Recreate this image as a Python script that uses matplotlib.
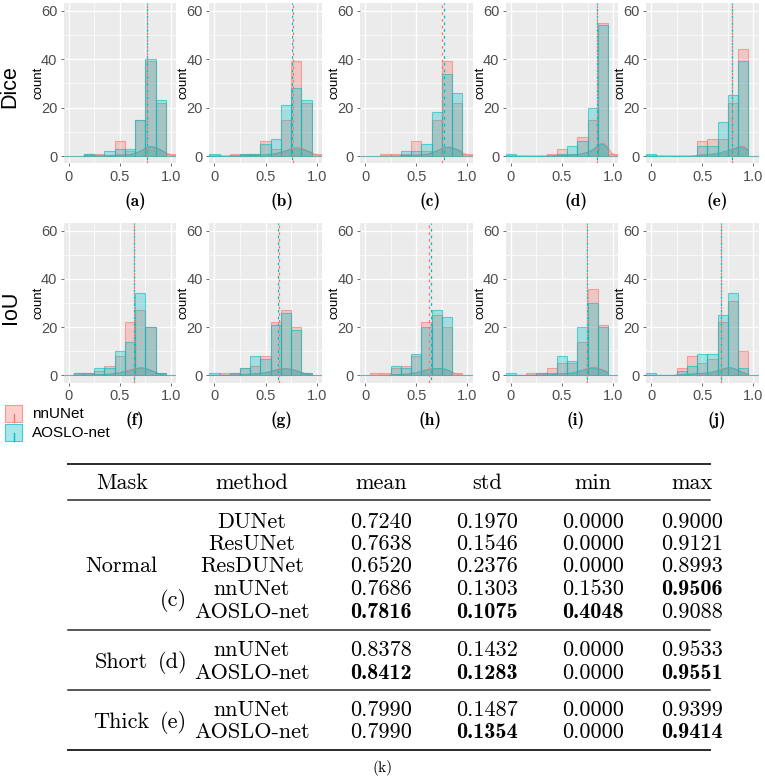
import math
import numpy as np
import matplotlib
matplotlib.use("Agg")
import matplotlib.pyplot as plt
from matplotlib.patches import Rectangle
from matplotlib.lines import Line2D

# ---------------- data ----------------
bin_centers = [0.0, 0.1, 0.2, 0.3, 0.4, 0.5, 0.6, 0.7, 0.8, 0.9, 1.0]
panel_labels = ["(a)", "(b)", "(c)", "(d)", "(e)", "(f)", "(g)", "(h)", "(i)", "(j)"]
row_titles = ["Dice", "IoU"]
legend_names = ["nnUNet", "AOSLO-net"]

nnunet_counts = [
    [0, 0, 1, 1, 0, 6, 2, 15, 39, 22, 1],
    [0, 0, 1, 1, 1, 6, 3, 15, 39, 22, 1],
    [0, 0, 1, 1, 1, 6, 2, 15, 39, 22, 1],
    [0, 0, 0, 0, 1, 3, 1, 8, 15, 55, 1],
    [0, 0, 0, 0, 0, 6, 7, 7, 22, 44, 0],
    [0, 1, 1, 2, 4, 8, 22, 27, 20, 1, 0],
    [0, 1, 1, 3, 4, 8, 22, 27, 20, 1, 0],
    [0, 1, 1, 3, 4, 8, 22, 25, 20, 1, 0],
    [0, 0, 1, 1, 3, 5, 5, 14, 36, 21, 0],
    [0, 0, 0, 3, 8, 5, 7, 22, 31, 10, 0],
]
aoslo_counts = [
    [0, 0, 1, 0, 2, 3, 3, 15, 40, 23, 0],
    [1, 0, 0, 1, 1, 5, 7, 21, 28, 23, 0],
    [0, 0, 0, 0, 2, 2, 5, 18, 34, 26, 0],
    [1, 0, 0, 0, 0, 1, 4, 6, 20, 54, 0],
    [1, 0, 0, 0, 0, 4, 4, 14, 25, 39, 0],
    [0, 1, 1, 3, 3, 10, 14, 34, 20, 1, 0],
    [1, 0, 1, 3, 8, 7, 21, 26, 19, 1, 0],
    [0, 0, 0, 4, 3, 9, 20, 27, 24, 0, 0],
    [1, 0, 0, 1, 1, 8, 6, 20, 30, 20, 0],
    [1, 0, 0, 2, 4, 9, 9, 25, 34, 3, 0],
]
nnunet_means = [0.770, 0.772, 0.755, 0.840, 0.790, 0.644, 0.636, 0.626, 0.741, 0.685]
aoslo_means = [0.770, 0.756, 0.775, 0.840, 0.790, 0.644, 0.626, 0.646, 0.741, 0.685]

table_header = ["Mask", "method", "mean", "std", "min", "max"]
mask_groups = ["Normal", "Short", "Thick"]
group_tags = ["(c)", "(d)", "(e)"]
group_methods = [["DUNet", "ResUNet", "ResDUNet", "nnUNet", "AOSLO-net"],
                 ["nnUNet", "AOSLO-net"],
                 ["nnUNet", "AOSLO-net"]]
mean_vals = [[0.7240, 0.7638, 0.6520, 0.7686, 0.7816], [0.8378, 0.8412], [0.7990, 0.7990]]
std_vals = [[0.1970, 0.1546, 0.2376, 0.1303, 0.1075], [0.1432, 0.1283], [0.1487, 0.1354]]
min_vals = [[0.0000, 0.0000, 0.0000, 0.1530, 0.4048], [0.0000, 0.0000], [0.0000, 0.0000]]
max_vals = [[0.9000, 0.9121, 0.8993, 0.9506, 0.9088], [0.9533, 0.9551], [0.9399, 0.9414]]
table_caption = "(k)"

# ---------------- styling ----------------
W, H = 765, 778
RED = "#F8766D"
CYAN = "#00BFC4"
SANS = "Liberation Sans"
BIN_W = 0.1

fig = plt.figure(figsize=(W / 100, H / 100), dpi=100)
fig.patch.set_facecolor("white")


def fx(x):
    return x / W


def fy(y):
    return 1 - y / H


panel_lefts = [63.5, 209.3, 360.0, 505.7, 646.0]
panel_w = 112.5
row_spans = [(3.3, 163.3), (223.3, 382.7)]
caption_x = [135, 282, 430, 576, 717]
caption_y = [201, 420]

_erf = np.vectorize(math.erf)


def smooth_density(counts):
    """Gaussian-smoothed density of the binned values (each bin spread uniformly)."""
    c = np.array(counts, dtype=float)
    centers = np.array(bin_centers)
    n = c.sum()
    mean = (c * centers).sum() / n
    sd = math.sqrt((c * (centers - mean) ** 2).sum() / (n - 1))
    bw = 0.9 * sd * n ** -0.2
    nz = centers[c > 0]
    grid = np.linspace(nz.min() - BIN_W / 2, nz.max() + BIN_W / 2, 300)
    lo = centers - BIN_W / 2
    hi = centers + BIN_W / 2
    a = (grid[:, None] - lo[None, :]) / (bw * math.sqrt(2))
    b = (grid[:, None] - hi[None, :]) / (bw * math.sqrt(2))
    dens = (c[None, :] * 0.5 * (_erf(a) - _erf(b)) / BIN_W).sum(1) / n
    return grid, dens


for i in range(10):
    r, col_i = divmod(i, 5)
    top, bot = row_spans[r]
    ax = fig.add_axes([fx(panel_lefts[col_i]), fy(bot), panel_w / W, (bot - top) / H])
    ax.set_facecolor("#EBEBEB")
    for s in ax.spines.values():
        s.set_visible(False)
    ax.set_xlim(-0.05, 1.05)
    ax.set_ylim(-3, 63)
    ax.set_xticks([0, 0.5, 1.0])
    ax.set_xticklabels(["0", "0.5", "1.0"])
    ax.set_yticks([0, 20, 40, 60])
    ax.set_xticks([0.25, 0.75], minor=True)
    ax.set_yticks([10, 30, 50], minor=True)
    ax.grid(which="major", color="white", lw=1.0)
    ax.grid(which="minor", color="white", lw=0.5)
    ax.set_axisbelow(True)
    ax.tick_params(which="major", length=2.5, width=0.5, color="#333333", pad=2,
                   labelsize=10.5, labelcolor="#4D4D4D")
    ax.tick_params(which="minor", length=0)
    for lab in ax.get_xticklabels() + ax.get_yticklabels():
        lab.set_family(SANS)
    ax.text(-25.5 / panel_w, 0.5, "count", rotation=90, transform=ax.transAxes,
            ha="center", va="center", fontsize=9.5, family=SANS, color="black")

    for counts, col in ((nnunet_counts[i], RED), (aoslo_counts[i], CYAN)):
        ax.bar(bin_centers, counts, width=BIN_W, color=(col, 0.3),
               edgecolor=(col, 0.6), linewidth=0.8, zorder=2)
    for counts, col in ((nnunet_counts[i], RED), (aoslo_counts[i], CYAN)):
        g, d = smooth_density(counts)
        ax.fill_between(g, 0, d, color=(col, 0.3), lw=0, zorder=3)
        ax.plot(g, d, color=(col, 0.7), lw=0.7, zorder=3)
    ax.axvline(nnunet_means[i], color=RED, lw=0.9, ls=(0, (2.2, 3.2)), zorder=4)
    ax.axvline(aoslo_means[i], color=CYAN, lw=0.9, ls=(2.7, (2.2, 3.2)), zorder=4)

    fig.text(fx(caption_x[col_i]), fy(caption_y[r]), panel_labels[i], ha="center", va="center",
             fontsize=12.5, family="cmb10")

# row titles
fig.text(fx(10), fy(87), row_titles[0], rotation=90, ha="center", va="center",
         fontsize=15.5, family=SANS)
fig.text(fx(11), fy(307), row_titles[1], rotation=90, ha="center", va="center",
         fontsize=15.5, family=SANS)

# legend
for k, (name, col) in enumerate(zip(legend_names, (RED, CYAN))):
    y0 = 405 + k * 19
    fig.patches.append(Rectangle((fx(5), fy(y0 + 17)), 17 / W, 17 / H, transform=fig.transFigure,
                                 facecolor=(col, 0.35), edgecolor=(col, 0.7), lw=0.8))
    fig.lines.append(Line2D([fx(13.5), fx(13.5)], [fy(y0 + 17), fy(y0 + 9)], transform=fig.transFigure,
                            color=col, lw=1.0))
    fig.text(fx(32), fy(y0 + 9), name, ha="left", va="center", fontsize=11, family=SANS)

# ---------------- table ----------------
col_x = [121.7, 252, 381, 487, 593, 692]
CAP = 7.5  # half cap height in px (baseline offset)


def hline(y, lw):
    fig.lines.append(Line2D([fx(68), fx(710)], [fy(y), fy(y)], transform=fig.transFigure,
                            color="#2a2a2a", lw=lw))


hline(464.3, 1.4)
hline(500.0, 1.1)
hline(629.5, 1.1)
hline(689.5, 1.1)
hline(749.5, 1.4)

TF = 16
for x, h in zip(col_x, table_header):
    fig.text(fx(x), fy(481.7 + CAP), h, ha="center", va="baseline", fontsize=TF, family="cmr10")

row_centers = [[520.0, 542.5, 565.0, 587.5, 610.0], [649.0, 671.7], [708.3, 731.0]]
label_y = [565.0, 660.0, 720.0]
tag_y = [599.0, 660.0, 720.0]

for gi in range(3):
    fig.text(fx(col_x[0]), fy(label_y[gi] + CAP), mask_groups[gi], ha="center", va="baseline",
             fontsize=TF, family="cmr10")
    fig.text(fx(173), fy(tag_y[gi] + CAP), group_tags[gi], ha="center", va="baseline",
             fontsize=TF, family="cmr10")
    cols = [mean_vals[gi], std_vals[gi], min_vals[gi], max_vals[gi]]
    best = []
    for ci, vals in enumerate(cols):
        target = min(vals) if ci == 1 else max(vals)
        best.append(vals.index(target) if vals.count(target) == 1 else -1)
    for ri, m in enumerate(group_methods[gi]):
        yb = fy(row_centers[gi][ri] + CAP)
        fig.text(fx(col_x[1]), yb, m, ha="center", va="baseline", fontsize=TF, family="cmr10")
        for ci, vals in enumerate(cols):
            fam = "cmb10" if best[ci] == ri else "cmr10"
            fig.text(fx(col_x[ci + 2]), yb, f"{vals[ri]:.4f}", ha="center", va="baseline",
                     fontsize=TF, family=fam)

fig.text(fx(383), fy(768.5), table_caption, ha="center", va="center", fontsize=11, family="cmr10")

fig.savefig("out.png", dpi=100)
